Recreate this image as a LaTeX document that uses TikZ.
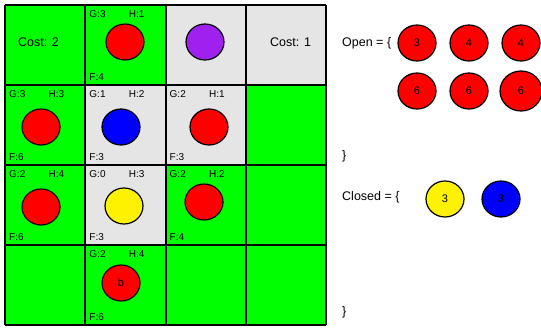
\documentclass[tikz,border=0pt]{standalone}
\usepackage{fontspec}
\setmainfont{Liberation Sans}
\usepackage{tikz}
\usetikzlibrary{shapes.geometric}
\definecolor{cellgreen}{HTML}{00FF00}
\definecolor{cellgrey}{HTML}{E5E5E5}
\definecolor{tokpurple}{HTML}{A020F0}

\begin{document}
\begin{tikzpicture}[x=1pt,y=-1pt,
	tok/.style={ellipse,draw=black,line width=1.2pt,minimum width=38pt,minimum height=36pt,inner sep=0pt,font=\fontsize{11}{13}\selectfont},
	lab/.style={anchor=west,inner sep=0pt,font=\fontsize{10}{12}\selectfont},
	big/.style={anchor=west,inner sep=0pt,font=\fontsize{12.5}{15}\selectfont}]
		\useasboundingbox (0,0) rectangle (541,329);
		%
		\fill[cellgreen] (5,5) rectangle (326,325);
		\foreach \c/\r in {2/0,3/0,1/1,2/1,1/2}
			\fill[cellgrey] (5+80.25*\c,5+80*\r) rectangle (5+80.25*\c+80.25,5+80*\r+80);
		\foreach \i in {0,...,4}{
			\draw[line width=2pt] (5+80.25*\i,5) -- (5+80.25*\i,325);
			\draw[line width=2pt] (5,5+80*\i) -- (326,5+80*\i);
		}
		%
		\foreach \c/\r/\g/\h/\f in {1/0/3/1/4,0/1/3/3/6,1/1/1/2/3,2/1/2/1/3,0/2/2/4/6,1/2/0/3/3,2/2/2/2/4,1/3/2/4/6}{
			\node[lab] (g\c\r) at (9+80.25*\c,14+80*\r) {G:\g};
			\node[lab] (h\c\r) at (48.5+80.25*\c,14+80*\r) {H:\h};
			\node[lab] (f\c\r) at (9+80.25*\c,77+80*\r) {F:\f};
		}
		%
		\node[big] (cost2) at (18,42) {Cost: 2};
		\node[big] (cost1) at (270,42) {Cost: 1};
		%
		\node[tok,fill=red] (t10) at (125,42) {};
		\node[tok,fill=tokpurple] (t20) at (205,42) {};
		\node[tok,fill=red] (t01) at (41,127) {};
		\node[tok,fill=blue] (t11) at (121,127) {};
		\node[tok,fill=red] (t21) at (209,127) {};
		\node[tok,fill=red] (t02) at (41,207) {};
		\node[tok,fill=yellow] (t12) at (124,206) {};
		\node[tok,fill=red] (t22) at (204,202) {};
		\node[tok,fill=red] (t13) at (121,283) {b};
		%
		\node[big] (open) at (342,43) {Open = \{};
		\node[tok,fill=red] (o1) at (417,43) {3};
		\node[tok,fill=red] (o2) at (469,43) {4};
		\node[tok,fill=red] (o3) at (521,43) {4};
		\node[tok,fill=red] (o4) at (417,91) {6};
		\node[tok,fill=red] (o5) at (469,91) {6};
		\node[tok,fill=red,minimum width=42pt,minimum height=40pt] (o6) at (521,91) {6};
		\node[big] (openend) at (342,156) {\}};
		%
		\node[big] (closed) at (342,197) {Closed = \{};
		\node[tok,fill=yellow] (c1) at (445,199) {3};
		\node[tok,fill=blue] (c2) at (501,199) {3};
		\node[big] (closedend) at (342,312) {\}};
	\end{tikzpicture}
\end{document}
